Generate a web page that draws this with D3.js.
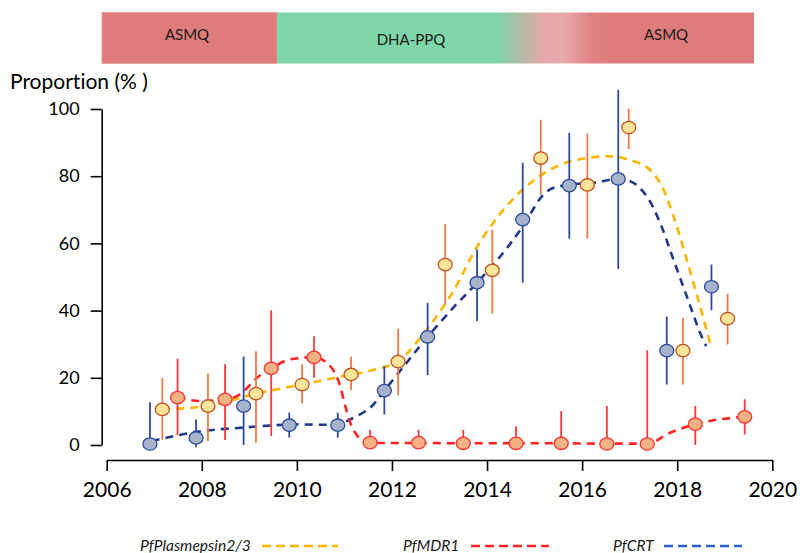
<!DOCTYPE html>
<html>
<head>
<meta charset="utf-8">
<script src="https://cdn.jsdelivr.net/npm/d3@7"></script>
<style>
  html, body { margin: 0; padding: 0; background: #fff; }
  svg { display: block; font-family: Lato, "Open Sans", sans-serif; font-variant-ligatures: none; }
</style>
</head>
<body>
<svg id="chart" width="810" height="553"></svg>
<script>
// ---------- DATA ----------
const xTickValues = [2006, 2008, 2010, 2012, 2014, 2016, 2018, 2020];
const yTickValues = [0, 20, 40, 60, 80, 100];

// PfCRT (blue)
const crtYears = [2006.91, 2007.88, 2008.88, 2009.84, 2010.86, 2011.84, 2012.75, 2013.79, 2014.75, 2015.73, 2016.76, 2017.78, 2018.72];
const crtValues = [0.3, 2.1, 11.6, 5.9, 5.9, 16.2, 32.2, 48.3, 67.1, 77.2, 79.2, 28.1, 47.1];
const crtLow = [0, -0.7, 0, 2.2, 2.2, 9.1, 20.8, 36.9, 48.3, 61.4, 52.4, 18.0, 40.1];
const crtHigh = [12.7, 7.6, 26.3, 9.6, 9.6, 23.5, 42.3, 58.2, 84.0, 92.9, 105.7, 38.2, 53.7];
const crtTrendYears = [2006.95, 2007.88, 2008.88, 2009.84, 2010.86, 2011.12, 2011.54, 2011.84, 2012.31, 2012.75, 2013.3, 2013.79, 2014.34, 2014.75, 2015.26, 2015.73, 2016.24, 2016.76, 2017.08, 2017.36, 2017.64, 2017.92, 2018.2, 2018.48, 2018.61];
const crtTrendValues = [1.2, 3.9, 5.2, 6.1, 6.3, 7.6, 11.1, 16.2, 24.5, 32.2, 41.0, 48.3, 57.2, 65.0, 75.5, 77.5, 78.0, 79.2, 78.0, 74.0, 66.1, 55.2, 44.3, 33.4, 29.4];

// PfPlasmepsin2/3 (yellow / orange)
const pmYears = [2007.17, 2008.13, 2009.14, 2010.11, 2011.14, 2012.13, 2013.12, 2014.11, 2015.13, 2016.11, 2016.98, 2018.12, 2019.06];
const pmValues = [10.6, 11.6, 15.3, 18.0, 21.0, 24.8, 53.7, 52.0, 85.4, 77.4, 94.5, 28.1, 37.6];
const pmLow = [1.5, 1.2, 0.7, 12.4, 16.3, 14.8, 41.8, 39.1, 74.5, 61.4, 88.1, 18.0, 29.9];
const pmHigh = [20.0, 21.3, 27.9, 24.0, 26.3, 34.6, 65.8, 64.1, 96.8, 92.7, 100.1, 37.9, 45.0];
const pmTrendYears = [2007.17, 2008.13, 2009.14, 2010.11, 2010.9, 2011.5, 2012.13, 2012.45, 2012.94, 2013.3, 2013.79, 2014.35, 2014.91, 2015.54, 2016.1, 2016.59, 2016.94, 2017.36, 2017.64, 2017.92, 2018.2, 2018.48, 2018.71];
const pmTrendValues = [10.6, 11.6, 15.3, 18.0, 20.3, 22.0, 24.8, 29.4, 38.3, 46.0, 59.0, 70.1, 78.0, 83.4, 85.4, 85.9, 85.1, 82.7, 78.0, 68.1, 55.2, 41.3, 29.4];

// PfMDR1 (red)
const mdrYears = [2007.49, 2008.49, 2009.46, 2010.36, 2011.54, 2012.56, 2013.50, 2014.61, 2015.56, 2016.52, 2017.37, 2018.38, 2019.42];
const mdrValues = [14.1, 13.6, 22.8, 26.1, 0.7, 0.7, 0.5, 0.5, 0.5, 0.3, 0.3, 6.2, 8.4];
const mdrLow = [2.9, 1.5, 2.7, 20.0, 0, 0, 0, 0, 0, 0, 0, 0, 3.1];
const mdrHigh = [25.7, 24.0, 40.1, 32.4, 4.5, 4.5, 4.5, 5.6, 10.1, 11.6, 28.2, 11.6, 13.6];
const mdrTrendYears = [2007.49, 2007.97, 2008.49, 2008.81, 2009.16, 2009.46, 2009.86, 2010.36, 2010.7, 2010.9, 2011.02, 2011.12, 2011.26, 2011.4, 2011.54, 2012.56, 2013.5, 2014.61, 2015.56, 2016.52, 2017.37, 2017.86, 2018.38, 2019.42];
const mdrTrendValues = [14.1, 13.1, 13.6, 15.1, 20.0, 22.8, 25.5, 26.1, 23.5, 18.0, 11.5, 6.7, 3.0, 1.0, 0.6, 0.6, 0.5, 0.5, 0.5, 0.4, 0.4, 3.7, 6.2, 8.4];

// Treatment band
const bandLabels = ["ASMQ", "DHA-PPQ", "ASMQ"];
const legendLabels = ["PfPlasmepsin2/3", "PfMDR1", "PfCRT"];

// ---------- DRAW ----------
const svg = d3.select("#chart");
const x = d3.scaleLinear().domain([2006, 2020]).range([106.7, 772.3]);
const y = d3.scaleLinear().domain([0, 100]).range([445, 109]);

// Top treatment band
const defs = svg.append("defs");
const grad = defs.append("linearGradient").attr("id", "bandGrad")
  .attr("gradientUnits", "userSpaceOnUse")
  .attr("x1", 277).attr("x2", 754).attr("y1", 0).attr("y2", 0);
[[0, "#7fd6a8"], [0.46, "#7fd6a8"], [0.53, "#c7b3a6"], [0.56, "#e6a9ab"], [0.60, "#e8a9ab"], [0.66, "#df8383"], [0.70, "#de7c7c"], [1, "#de7c7c"]]
  .forEach(([o, c]) => grad.append("stop").attr("offset", o).attr("stop-color", c));

svg.append("rect").attr("x", 102).attr("y", 12.5).attr("width", 175).attr("height", 51)
  .attr("fill", "#de7c7c").attr("stroke", "#e99a9a").attr("stroke-width", 0.8);
svg.append("rect").attr("x", 277).attr("y", 12.5).attr("width", 477).attr("height", 51)
  .attr("fill", "url(#bandGrad)");
const bandPos = [[187, 36], [411, 41], [666, 36]];
svg.selectAll("text.band").data(bandLabels).join("text").attr("class", "band")
  .attr("x", (d, i) => bandPos[i][0]).attr("y", (d, i) => bandPos[i][1])
  .attr("text-anchor", "middle").attr("dominant-baseline", "middle")
  .attr("font-size", 15).attr("fill", "#1a1a1a").text(d => d);

// Y axis title
svg.append("text").attr("x", 10).attr("y", 89).attr("font-size", 21).attr("fill", "#000")
  .text("Proportion (% )");

// Axes
const yAxis = d3.axisLeft(y).tickValues(yTickValues).tickSize(11).tickSizeOuter(0).tickPadding(11);
const gy = svg.append("g").attr("transform", "translate(101.7,0)").call(yAxis);
gy.selectAll("path, line").attr("stroke", "#000").attr("stroke-width", 1.6);
gy.selectAll("text").attr("font-size", 18).attr("font-family", "Lato, sans-serif").attr("fill", "#000");

const xAxis = d3.axisBottom(x).tickValues(xTickValues).tickFormat(d3.format("d")).tickSize(11).tickSizeOuter(0).tickPadding(11);
const gx = svg.append("g").attr("transform", "translate(0,460)").call(xAxis);
gx.selectAll("path, line").attr("stroke", "#000").attr("stroke-width", 1.6);
gx.selectAll("text").attr("font-size", 21).attr("font-family", "Lato, sans-serif").attr("fill", "#000");

// Series definitions
const series = [
  { years: crtTrendYears, vals: crtTrendValues, color: "#1f3a8a", curve: d3.curveCatmullRom.alpha(0.5),
    py: crtYears, pv: crtValues, lo: crtLow, hi: crtHigh, bar: "#2e4a9e", fill: "#a6b3cb", stroke: "#2e4a9e" },
  { years: pmTrendYears, vals: pmTrendValues, color: "#ffb400", curve: d3.curveCatmullRom.alpha(0.5),
    py: pmYears, pv: pmValues, lo: pmLow, hi: pmHigh, bar: "#f07a45", fill: "#ffe59a", stroke: "#c0501e" },
  { years: mdrTrendYears, vals: mdrTrendValues, color: "#ff2222", curve: d3.curveMonotoneX,
    py: mdrYears, pv: mdrValues, lo: mdrLow, hi: mdrHigh, bar: "#ff3838", fill: "#f4b183", stroke: "#ff3030" }
];

// trend lines
series.forEach(s => {
  const line = d3.line().x(d => x(d[0])).y(d => y(d[1])).curve(s.curve);
  svg.append("path").datum(s.years.map((yr, i) => [yr, s.vals[i]]))
    .attr("d", line).attr("fill", "none").attr("stroke", s.color)
    .attr("stroke-width", 2.6).attr("stroke-dasharray", "8,6");
});

// error bars
series.forEach(s => {
  svg.append("g").selectAll("line").data(s.py.map((yr, i) => [yr, s.lo[i], s.hi[i]])).join("line")
    .attr("x1", d => x(d[0])).attr("x2", d => x(d[0]))
    .attr("y1", d => y(d[1])).attr("y2", d => y(d[2]))
    .attr("stroke", s.bar).attr("stroke-width", 1.8);
});

// points
series.forEach(s => {
  svg.append("g").selectAll("ellipse").data(s.py.map((yr, i) => [yr, s.pv[i]])).join("ellipse")
    .attr("cx", d => x(d[0])).attr("cy", d => y(d[1]))
    .attr("rx", 7).attr("ry", 6.2)
    .attr("fill", s.fill).attr("stroke", s.stroke).attr("stroke-width", 1.3);
});

// Legend
const legendItems = [
  { label: legendLabels[0], tx: 140, lx1: 262, lx2: 338, color: "#ffb400" },
  { label: legendLabels[1], tx: 403, lx1: 471, lx2: 549, color: "#ff2222" },
  { label: legendLabels[2], tx: 613, lx1: 664, lx2: 742, color: "#2f5fd0" }
];
const lg = svg.append("g");
legendItems.forEach(it => {
  lg.append("text").attr("x", it.tx).attr("y", 551).attr("font-size", 15.6)
    .attr("font-style", "italic").attr("fill", "#1a1a1a").text(it.label);
  lg.append("line").attr("x1", it.lx1).attr("x2", it.lx2).attr("y1", 546).attr("y2", 546)
    .attr("stroke", it.color).attr("stroke-width", 2.4).attr("stroke-dasharray", "9,5");
});
</script>
</body>
</html>
